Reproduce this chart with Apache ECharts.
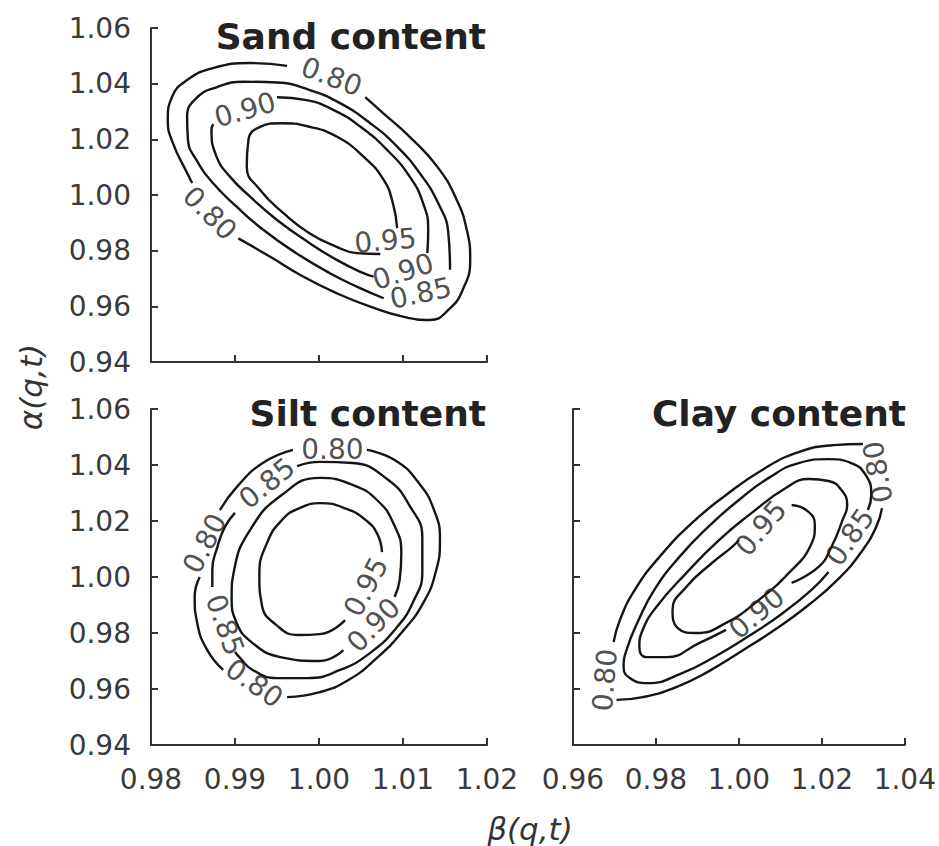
<!DOCTYPE html>
<html>
<head>
<meta charset="utf-8">
<script src="https://cdn.jsdelivr.net/npm/echarts@6/dist/echarts.min.js"></script>
<style>
html,body{margin:0;padding:0;background:#fff;}
#chart{width:939px;height:846px;}
</style>
</head>
<body>
<div id="chart"></div>
<script>
// ---------- tick values ----------
const alphaTicks = [0.94, 0.96, 0.98, 1.00, 1.02, 1.04, 1.06];
const betaTicksSandSilt = [0.98, 0.99, 1.00, 1.01, 1.02];
const betaTicksClay = [0.96, 0.98, 1.00, 1.02, 1.04];

// ---------- panel titles ----------
const panelTitles = ['Sand content', 'Silt content', 'Clay content'];
const alphaName = 'α(q,t)';
const betaName = 'β(q,t)';

// ---------- Sand content contours [beta, alpha], split where labels sit ----------
const sand080 = [
  [[0.9962,1.0464],[0.9918,1.0474],[0.9874,1.0456],[0.9843,1.0413],[0.9825,1.0352],[0.9820,1.0270],[0.9826,1.0187],[0.9843,1.0079],[0.9849,1.0043]],
  [[0.9904,0.9844],[0.9942,0.9778],[0.9981,0.9707],[1.0021,0.9647],[1.0061,0.9599],[1.0100,0.9563],[1.0132,0.9551],[1.0154,0.9587],[1.0171,0.9659],[1.0180,0.9767],[1.0176,0.9874],[1.0164,0.9982],[1.0141,1.0101],[1.0108,1.0209],[1.0076,1.0295],[1.0055,1.0352]]
];
const sand085 = [
  [[1.0156,0.9731],[1.0154,0.9862],[1.0142,0.9970],[1.0120,1.0078],[1.0093,1.0174],[1.0061,1.0258],[1.0025,1.0330],[0.9989,1.0377],[0.9950,1.0404],[0.9910,1.0407],[0.9878,1.0387],[0.9854,1.0348],[0.9843,1.0281],[0.9844,1.0198],[0.9854,1.0126],[0.9874,1.0042],[0.9902,0.9958],[0.9934,0.9874],[0.9973,0.9791],[1.0013,0.9719],[1.0045,0.9671],[1.0077,0.9629]]
];
const sand090 = [
  [[0.9950,1.0351],[0.9985,1.0341],[1.0017,1.0306],[1.0049,1.0246],[1.0081,1.0162],[1.0108,1.0066],[1.0124,0.9970],[1.0130,0.9874],[1.0129,0.9791]],
  [[1.0065,0.9707],[1.0053,0.9719],[1.0021,0.9767],[0.9989,0.9827],[0.9950,0.9910],[0.9918,0.9994],[0.9894,1.0066],[0.9878,1.0138],[0.9872,1.0234],[0.9874,1.0255]]
];
const sand095 = [
  [[1.0093,0.9881],[1.0088,0.9970],[1.0077,1.0054],[1.0053,1.0138],[1.0021,1.0210],[0.9989,1.0245],[0.9954,1.0258],[0.9930,1.0245],[0.9916,1.0198],[0.9914,1.0102],[0.9930,1.0018],[0.9958,0.9934],[0.9989,0.9862],[1.0021,0.9814],[1.0045,0.9791],[1.0073,0.9788]]
];
const sandLabels = [
  [1.0015,1.0425,'0.80'],[0.9870,0.9934,'0.80'],[0.9912,1.0306,'0.90'],
  [1.0079,0.9836,'0.95'],[1.0100,0.9725,'0.90'],[1.0121,0.9647,'0.85']
];

// ---------- Silt content contours ----------
const silt080 = [
  [[1.0057,1.0454],[1.0090,1.0418],[1.0118,1.0339],[1.0137,1.0239],[1.0144,1.0132],[1.0139,1.0018],[1.0124,0.9907],[1.0099,0.9804],[1.0069,0.9711],[1.0035,0.9632],[1.0001,0.9589],[0.9962,0.9571]],
  [[0.9886,0.9668],[0.9867,0.9739],[0.9855,0.9836],[0.9852,0.9929],[0.9858,1.0000]],
  [[0.9882,1.0239],[0.9902,1.0321],[0.9933,1.0407],[0.9969,1.0454]]
];
const silt085 = [
  [[0.9974,1.0396],[1.0001,1.0411],[1.0040,1.0407],[1.0081,1.0350],[1.0108,1.0254],[1.0123,1.0139],[1.0123,1.0018],[1.0112,0.9911],[1.0092,0.9818],[1.0061,0.9729],[1.0025,0.9668],[0.9986,0.9639],[0.9950,0.9639],[0.9921,0.9668],[0.9906,0.9711],[0.9900,0.9732]],
  [[0.9873,0.9964],[0.9873,1.0025],[0.9879,1.0107],[0.9888,1.0179],[0.9900,1.0229]]
];
const silt090 = [
  [[1.0090,0.9929],[1.0096,0.9989],[1.0098,1.0086],[1.0089,1.0189],[1.0069,1.0275],[1.0040,1.0329],[1.0001,1.0354],[0.9954,1.0289],[0.9918,1.0168],[0.9899,1.0025],[0.9896,0.9929],[0.9902,0.9836],[0.9921,0.9764],[0.9954,0.9714],[1.0001,0.9700],[1.0029,0.9739]]
];
const silt095 = [
  [[1.0075,1.0089],[1.0070,1.0150],[1.0057,1.0200],[1.0033,1.0243],[1.0001,1.0264],[0.9977,1.0246],[0.9957,1.0207],[0.9938,1.0121],[0.9929,1.0007],[0.9932,0.9900],[0.9949,0.9829],[0.9975,0.9793],[1.0001,0.9796],[1.0031,0.9846]]
];
const siltLabels = [
  [1.0016,1.0457,'0.80'],[0.9938,1.0335,'0.85'],[0.9864,1.0120,'0.80'],
  [0.9888,0.9829,'0.85'],[0.9923,0.9620,'0.80'],[1.0056,0.9965,'0.95'],[1.0065,0.9829,'0.90']
];

// ---------- Clay content contours ----------
const clay080 = [
  [[1.0299,1.0475],[1.0228,1.0471],[1.0144,1.0446],[1.0060,1.0386],[0.9969,1.0293],[0.9887,1.0193],[0.9808,1.0071],[0.9749,0.9954],[0.9713,0.9846],[0.9698,0.9768]],
  [[0.9705,0.9561],[0.9768,0.9571],[0.9849,0.9607],[0.9928,0.9664],[1.0007,0.9736],[1.0089,0.9814],[1.0168,0.9900],[1.0240,0.9993],[1.0295,1.0089],[1.0331,1.0179],[1.0345,1.0246]]
];
const clay085 = [
  [[1.0311,1.0239],[1.0319,1.0293],[1.0307,1.0361],[1.0271,1.0407],[1.0216,1.0421],[1.0144,1.0407],[1.0072,1.0354],[1.0000,1.0275],[0.9928,1.0182],[0.9856,1.0071],[0.9796,0.9954],[0.9756,0.9839],[0.9729,0.9739],[0.9722,0.9679],[0.9737,0.9639],[0.9780,0.9621],[0.9863,0.9657],[0.9945,0.9718],[1.0024,0.9789],[1.0103,0.9868],[1.0175,0.9954],[1.0216,1.0018]]
];
const clay090 = [
  [[1.0127,0.9979],[1.0192,1.0036],[1.0223,1.0107],[1.0250,1.0204],[1.0261,1.0257],[1.0247,1.0311],[1.0216,1.0343],[1.0168,1.0350],[1.0113,1.0318],[1.0031,1.0229],[0.9952,1.0132],[0.9873,1.0014],[0.9801,0.9893],[0.9768,0.9811],[0.9760,0.9750],[0.9777,0.9714],[0.9825,0.9714],[0.9904,0.9764],[0.9969,0.9811]]
];
const clay095 = [
  [[1.0127,1.0257],[1.0165,1.0236],[1.0183,1.0186],[1.0172,1.0110],[1.0120,1.0014],[1.0048,0.9918],[0.9969,0.9836],[0.9897,0.9800],[0.9852,0.9818],[0.9840,0.9882],[0.9873,0.9964],[0.9935,1.0050],[0.9983,1.0107],[1.0000,1.0132]]
];
const clayLabels = [
  [1.0335,1.0375,'0.80'],[0.9677,0.9632,'0.80'],[1.0268,1.0143,'0.85'],
  [1.0043,0.9871,'0.90'],[1.0053,1.0175,'0.95']
];

// ---------- label orientation (style, degrees) ----------
const sandLabelAngles = [-21, -45, 16, 5, 18, 12];
const siltLabelAngles = [0, 39, 63, -70, -35, 62, 46];
const clayLabelAngles = [100, 85, 55, 40, 50];

// ---------- chart ----------
const chart = echarts.init(document.getElementById('chart'), null, {renderer: 'svg'});
const FONT = 'DejaVu Sans';
const AX = '#333';
const INK = '#151515';

const grids = [
  {left: 151, top: 28, width: 336, height: 334},
  {left: 151, top: 409, width: 336, height: 336},
  {left: 573, top: 409, width: 334, height: 336}
];

function makeAxis(gi, ticks, showLabels) {
  return {
    type: 'value', gridIndex: gi,
    min: ticks[0], max: ticks[ticks.length - 1], interval: +(ticks[1] - ticks[0]).toFixed(4),
    axisLine: {show: true, onZero: false, lineStyle: {color: AX, width: 2}},
    axisTick: {show: true, inside: true, length: 7, lineStyle: {color: AX, width: 2}},
    axisLabel: {show: showLabels, margin: 20, fontSize: 28, fontFamily: FONT, color: '#3a3a3a',
      showMinLabel: true, showMaxLabel: true, formatter: v => v.toFixed(2)},
    splitLine: {show: false}
  };
}

const series = [];
function addPanel(gi, levels, labels, angles) {
  levels.forEach(segs => {
    segs.forEach(seg => {
      series.push({
        type: 'line', xAxisIndex: gi, yAxisIndex: gi, data: seg,
        smooth: 0.5, symbol: 'none', silent: true,
        lineStyle: {color: INK, width: 2.4}
      });
    });
  });
  series.push({
    type: 'scatter', xAxisIndex: gi, yAxisIndex: gi, symbolSize: 1, silent: true,
    itemStyle: {color: 'rgba(0,0,0,0)'},
    data: labels.map((l, i) => ({value: [l[0], l[1]], name: l[2], label: {rotate: angles[i]}})),
    label: {show: true, position: 'inside', formatter: '{b}', fontSize: 28, fontFamily: FONT,
      color: '#222', align: 'center', verticalAlign: 'middle'},
    z: 5
  });
}
addPanel(0, [sand080, sand085, sand090, sand095], sandLabels, sandLabelAngles);
addPanel(1, [silt080, silt085, silt090, silt095], siltLabels, siltLabelAngles);
addPanel(2, [clay080, clay085, clay090, clay095], clayLabels, clayLabelAngles);

const titleRight = [486, 486, 906];
const titleMid = [36, 413, 413];

chart.setOption({
  animation: false,
  backgroundColor: '#fff',
  grid: grids,
  xAxis: [makeAxis(0, betaTicksSandSilt, false), makeAxis(1, betaTicksSandSilt, true), makeAxis(2, betaTicksClay, true)],
  yAxis: [makeAxis(0, alphaTicks, true), makeAxis(1, alphaTicks, true), makeAxis(2, alphaTicks, false)],
  series: series,
  graphic: panelTitles.map((t, i) => ({
    type: 'text', x: titleRight[i], y: titleMid[i], silent: true,
    style: {text: t, font: 'bold 36px "DejaVu Sans"', fill: '#222', textAlign: 'right', textVerticalAlign: 'middle'}
  })).concat([
    {type: 'text', x: 31, y: 387, rotation: Math.PI / 2, silent: true,
      style: {text: alphaName, font: 'italic 31px "DejaVu Sans"', fill: '#333', textAlign: 'center', textVerticalAlign: 'middle'}},
    {type: 'text', x: 530, y: 829, silent: true,
      style: {text: betaName, font: 'italic 31px "DejaVu Sans"', fill: '#333', textAlign: 'center', textVerticalAlign: 'middle'}}
  ])
});
</script>
</body>
</html>
